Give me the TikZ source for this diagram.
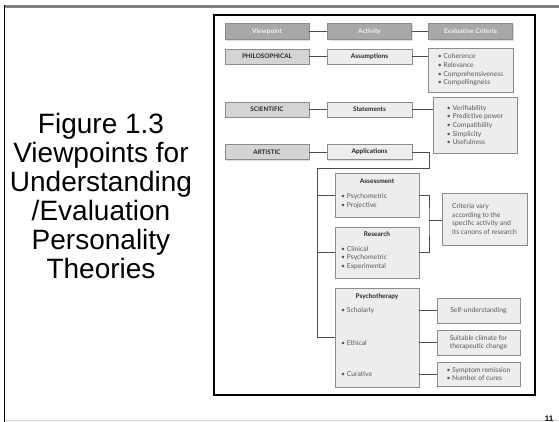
\documentclass[tikz,border=0pt]{standalone}
\usepackage{fontspec}
\setmainfont{Liberation Sans}
\newfontfamily\figfont{Lato}
\usetikzlibrary{shadows}

\tikzset{
    box/.style={draw=black!45, fill=black!7, line width=0.6pt, inner sep=2pt,
        drop shadow={shadow xshift=1.2pt, shadow yshift=-1.2pt, opacity=0.25},
        text=black!65, font=\figfont\fontsize{6.8}{8.6}\selectfont},
    hdrbox/.style={box, fill=black!34, text=black!5, minimum width=84pt, minimum height=16pt,
        font=\figfont\bfseries\fontsize{6.5}{8}\selectfont},
    viewbox/.style={box, fill=black!17, text=black!85, minimum width=84pt, minimum height=15pt,
        font=\figfont\bfseries\fontsize{6.3}{8}\selectfont},
    actbox/.style={box, minimum width=85pt, minimum height=15pt, text=black!85,
        font=\figfont\bfseries\fontsize{6.5}{8}\selectfont},
    critbox/.style={box, align=left},
    boxhead/.style={text=black!85, font=\figfont\bfseries\fontsize{6.5}{8}\selectfont},
    item/.style={anchor=west, align=left, inner sep=0pt, text=black!65,
        font=\figfont\fontsize{6.8}{8.6}\selectfont},
    link/.style={draw=black!70, line width=0.9pt},
}

\begin{document}
\begin{tikzpicture}[x=1pt, y=-1pt]
    \useasboundingbox (0,0) rectangle (559,422);
    \draw[black!50, line width=2.5pt] (4,6.5) -- (559,6.5);
    \draw[black!18, line width=1.5pt] (4,420.5) -- (559,420.5);
    \draw[black, line width=1.5pt] (4.5,5.5) -- (4.5,422);
    \node[anchor=base, font=\bfseries\fontsize{8}{8}\selectfont] (pagenum) at (549,421) {11};

    \node[align=center, anchor=base, inner sep=0pt, font=\fontsize{28}{29}\selectfont] (caption) at (101,278)
        {Figure 1.3\\Viewpoints for\\Understanding\\/Evaluation\\Personality\\Theories};

    \draw[black, line width=1.2pt, fill=white] (214,15) rectangle (535,395);

    \node[hdrbox] (viewpoint) at (267,31.5) {Viewpoint};
    \node[hdrbox] (activity) at (369.5,31.5) {Activity};
    \node[hdrbox] (criteria) at (470.5,31.5) {Evaluative Criteria};

    \node[viewbox] (philo) at (267,56.5) {PHILOSOPHICAL};
    \node[actbox] (assump) at (369.5,56.5) {Assumptions};
    \node[critbox, minimum width=85pt, minimum height=44pt] (critphilo) at (470.5,70)
        {\textbullet\ Coherence\\\textbullet\ Relevance\\\textbullet\ Comprehensiveness\\\textbullet\ Compellingness};

    \node[viewbox] (sci) at (267,109.5) {SCIENTIFIC};
    \node[actbox] (statem) at (369.5,109.5) {Statements};
    \node[critbox, minimum width=84pt, minimum height=56pt] (critsci) at (475,125)
        {\textbullet\ Verifiability\\\textbullet\ Predictive power\\\textbullet\ Compatibility\\\textbullet\ Simplicity\\\textbullet\ Usefulness};

    \node[viewbox] (art) at (267,152) {ARTISTIC};
    \node[actbox] (appl) at (369.5,152) {Applications};

    \node[box, minimum width=84pt, minimum height=44pt] (assess) at (377,195) {};
    \node[boxhead] (assesshead) at (377,181) {Assessment};
    \node[item] (assesslist) at (341,201) {\textbullet\ Psychometric\\\textbullet\ Projective};

    \node[box, minimum width=84pt, minimum height=51pt] (research) at (377,252.5) {};
    \node[boxhead] (researchhead) at (377,234) {Research};
    \node[item] (researchlist) at (341,258) {\textbullet\ Clinical\\\textbullet\ Psychometric\\\textbullet\ Experimental};

    \node[box, minimum width=84pt, minimum height=99pt] (psych) at (377,337.5) {};
    \node[boxhead] (psychhead) at (377,297) {Psychotherapy};
    \node[item] (scholarly) at (341,311) {\textbullet\ Scholarly};
    \node[item] (ethical) at (341,343) {\textbullet\ Ethical};
    \node[item] (curative) at (341,374) {\textbullet\ Curative};

    \node[critbox, minimum width=85pt, minimum height=52pt] (vary) at (484.5,219)
        {Criteria vary\\according to the\\specific activity and\\its canons of research};
    \node[box, minimum width=83pt, minimum height=25pt] (selfund) at (478.5,310.5) {Self-understanding};
    \node[critbox, minimum width=83pt, minimum height=25pt] (climate) at (478.5,342.5)
        {Suitable climate for\\therapeutic change};
    \node[critbox, minimum width=83pt, minimum height=24pt] (symptom) at (478.5,374)
        {\textbullet\ Symptom remission\\\textbullet\ Number of cures};

    \draw[link] (viewpoint) -- (activity);
    \draw[link] (activity) -- (criteria);
    \draw[link] (philo) -- (assump);
    \draw[link] (assump.east) -- (assump.east -| critphilo.west);
    \draw[link] (sci) -- (statem);
    \draw[link] (statem.east) -- (statem.east -| critsci.west);
    \draw[link] (art) -- (appl);

    \coordinate (trunk) at (317,168);
    \coordinate (fork) at (429,220);
    \draw[link] (appl.east) -- ++(17,0) |- (trunk) |- (psych.west);
    \draw[link] (trunk |- assess.west) -- (assess.west);
    \draw[link] (trunk |- research.west) -- (research.west);
    \draw[link] (assess.east) -| (fork) |- (research.east);
    \draw[link] (fork) -- (fork -| vary.west);
    \draw[link] (selfund.west -| psych.east) -- (selfund.west);
    \draw[link] (climate.west -| psych.east) -- (climate.west);
    \draw[link] (symptom.west -| psych.east) -- (symptom.west);
\end{tikzpicture}
\end{document}
